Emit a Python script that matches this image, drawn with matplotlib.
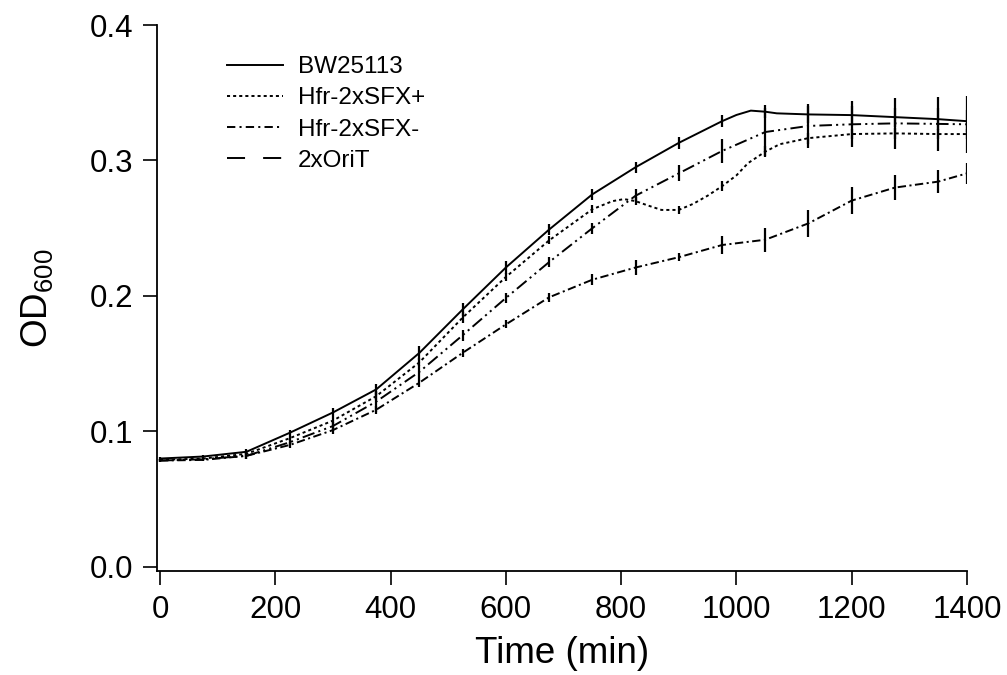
import numpy as np
import matplotlib
matplotlib.use("Agg")
import matplotlib.pyplot as plt
from matplotlib.lines import Line2D

plt.rcParams['font.family'] = ['Liberation Sans', 'DejaVu Sans']
plt.rcParams['mathtext.fontset'] = 'custom'
plt.rcParams['mathtext.rm'] = 'Liberation Sans'
plt.rcParams['mathtext.it'] = 'Liberation Sans'
plt.rcParams['lines.scale_dashes'] = False

# ---- data ----
labels = ["BW25113", "Hfr-2xSFX+", "Hfr-2xSFX-", "2xOriT"]

t_bw = [0, 75, 150, 225, 300, 375, 450, 525, 600, 675, 750, 825, 900, 975, 1000, 1025,
        1050, 1070, 1125, 1200, 1275, 1350, 1400]
od_bw = [0.080, 0.0815, 0.085, 0.099, 0.114, 0.131, 0.158, 0.190, 0.221, 0.249, 0.275,
         0.295, 0.313, 0.329, 0.3336, 0.3368, 0.336, 0.3348, 0.334, 0.3335, 0.332, 0.3305, 0.329]

t_sfxp = [0, 75, 150, 225, 300, 375, 450, 525, 600, 675, 750, 785, 805, 825, 845, 870, 900,
          925, 950, 975, 1000, 1020, 1050, 1075, 1125, 1200, 1275, 1350, 1400]
od_sfxp = [0.079, 0.080, 0.0835, 0.095, 0.108, 0.126, 0.151, 0.184, 0.214, 0.241, 0.264,
           0.270, 0.2715, 0.270, 0.267, 0.2635, 0.2635, 0.268, 0.274, 0.281, 0.289, 0.298,
           0.3065, 0.312, 0.3165, 0.3195, 0.320, 0.3195, 0.3195]

t_sfxm = [0, 75, 150, 225, 300, 375, 450, 525, 600, 675, 750, 825, 900, 975, 1050, 1125,
          1200, 1275, 1350, 1400]
od_sfxm = [0.0785, 0.079, 0.082, 0.090, 0.101, 0.116, 0.136, 0.158, 0.179, 0.199, 0.212,
           0.221, 0.2286, 0.2376, 0.2415, 0.2536, 0.2704, 0.280, 0.2844, 0.2905]

t_orit = [0, 75, 150, 225, 300, 375, 450, 525, 600, 675, 750, 825, 900, 975, 1050, 1125,
          1200, 1275, 1350, 1400]
od_orit = [0.0785, 0.0795, 0.082, 0.092, 0.104, 0.122, 0.144, 0.171, 0.1985, 0.225, 0.250,
           0.274, 0.2905, 0.307, 0.321, 0.3255, 0.3267, 0.3274, 0.327, 0.3267]

# error bars shown at these times
t_err = [0, 75, 150, 225, 300, 375, 450, 525, 600, 675, 750, 825, 900, 975, 1050, 1125,
         1200, 1275, 1350, 1400]
err_bw = [0.001, 0.001, 0.002, 0.002, 0.003, 0.004, 0.005, 0.005, 0.005, 0.004, 0.004,
          0.004, 0.0045, 0.0045, 0.005, 0.006, 0.007, 0.007, 0.008, 0.008]
err_sfxp = [0.001, 0.001, 0.002, 0.002, 0.003, 0.003, 0.003, 0.004, 0.003, 0.003, 0.003,
            0.003, 0.003, 0.0037, 0.004, 0.004, 0.004, 0.004, 0.004, 0.004]
err_sfxm = [0.001, 0.001, 0.002, 0.002, 0.003, 0.003, 0.003, 0.003, 0.003, 0.0035, 0.004,
            0.0055, 0.003, 0.0066, 0.009, 0.010, 0.010, 0.009, 0.0085, 0.0075]
err_orit = [0.001, 0.001, 0.002, 0.002, 0.003, 0.008, 0.005, 0.004, 0.0037, 0.0037, 0.004,
            0.005, 0.006, 0.009, 0.018, 0.016, 0.017, 0.019, 0.020, 0.021]

x_ticks = [0, 200, 400, 600, 800, 1000, 1200, 1400]
y_ticks = [0.0, 0.1, 0.2, 0.3, 0.4]

# ---- styles ----
lw = 1.4
styles = {
    "BW25113": dict(linestyle='-'),
    "Hfr-2xSFX+": dict(linestyle=(0, (2.2, 2.2))),
    "Hfr-2xSFX-": dict(linestyle=(0, (6, 2.5, 1.5, 2.5))),
    "2xOriT": dict(linestyle=(0, (9, 3, 1.5, 3, 1.5, 3))),
}
legend_styles = {
    "BW25113": '-',
    "Hfr-2xSFX+": (0, (2.2, 2.2)),
    "Hfr-2xSFX-": (0, (6, 3, 1.5, 3)),
    "2xOriT": (0, (13, 13)),
}

fig = plt.figure(figsize=(10.07, 6.75), dpi=100)
ax = fig.add_axes([157/1007, 1 - 571/675, 810/1007, 546/675])

series = [
    ("BW25113", t_bw, od_bw, err_bw),
    ("Hfr-2xSFX+", t_sfxp, od_sfxp, err_sfxp),
    ("Hfr-2xSFX-", t_sfxm, od_sfxm, err_sfxm),
    ("2xOriT", t_orit, od_orit, err_orit),
]
for name, t, od, err in series:
    t = np.asarray(t, float)
    od = np.asarray(od, float)
    ax.plot(t, od, color='black', lw=lw, **styles[name])
    te = np.asarray(t_err, float)
    ye = np.interp(te, t, od)  # values at the error-bar times (all present in t)
    ax.errorbar(te, ye, yerr=err, fmt='none', ecolor='black', elinewidth=1.6, capsize=0)

ax.set_xlim(-5.2, 1400)
ax.set_ylim(-0.003, 0.4)
ax.set_xticks(x_ticks)
ax.set_xticklabels([str(v) for v in x_ticks])
ax.set_yticks(y_ticks)
ax.set_yticklabels([f"{v:.1f}" for v in y_ticks])

for s in ['top', 'right']:
    ax.spines[s].set_visible(False)
for s in ['left', 'bottom']:
    ax.spines[s].set_linewidth(1.3)

ax.tick_params(axis='both', direction='out', length=10, width=1.2, labelsize=22.5, pad=7)

ax.set_xlabel("Time (min)", fontsize=26.5, labelpad=8)
ax.set_ylabel(r"OD$_{600}$", fontsize=26.5, labelpad=25)

handles = [Line2D([], [], color='black', lw=lw, linestyle=legend_styles[n]) for n in labels]
leg = ax.legend(handles, labels, loc='upper left', bbox_to_anchor=(215/1007, 1 - 44/675),
                bbox_transform=fig.transFigure, frameon=False, fontsize=17.5,
                handlelength=2.3, handletextpad=0.6, labelspacing=0.38, borderpad=0)

fig.savefig("out.png", dpi=100)
